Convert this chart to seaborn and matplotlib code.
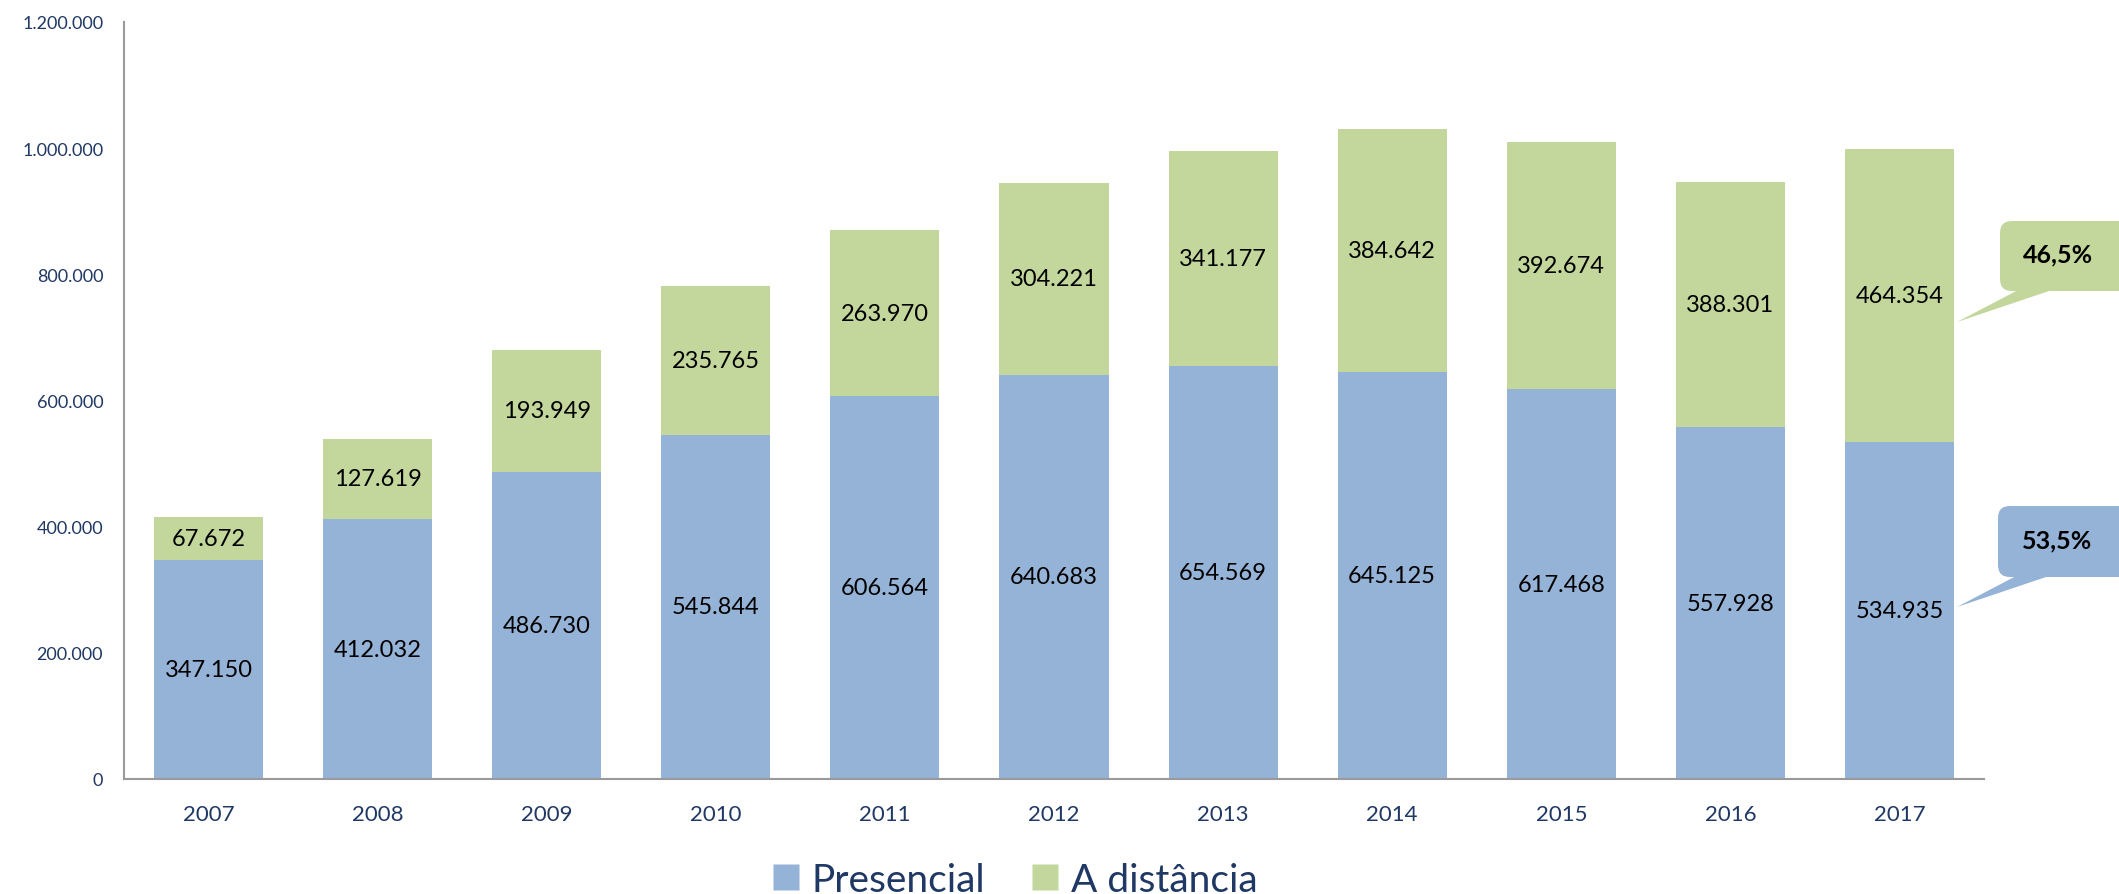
import matplotlib
matplotlib.use("Agg")
import matplotlib.pyplot as plt
import seaborn as sns
from matplotlib.patches import FancyBboxPatch, Polygon
from matplotlib.lines import Line2D
from matplotlib.transforms import IdentityTransform

# ---- data ----
years = ["2007", "2008", "2009", "2010", "2011", "2012", "2013", "2014", "2015", "2016", "2017"]
presencial = [347150, 412032, 486730, 545844, 606564, 640683, 654569, 645125, 617468, 557928, 534935]
distancia = [67672, 127619, 193949, 235765, 263970, 304221, 341177, 384642, 392674, 388301, 464354]
series_names = ["Presencial", "A distância"]
share_labels = ["53,5%", "46,5%"]
ytick_values = [0, 200000, 400000, 600000, 800000, 1000000, 1200000]

BLUE = "#95B3D7"
GREEN = "#C3D69B"
NAVY = "#1F3864"
SPINE = "#9A9A9A"


def fmt(v):
    return f"{v:,}".replace(",", ".")


sns.set_style("white")
plt.rcParams['font.family'] = ['Lato', 'DejaVu Sans']

W, H = 2119, 895
fig = plt.figure(figsize=(W / 100, H / 100), dpi=100)
ax = fig.add_axes([124 / W, 1 - 780 / H, (1984 - 124) / W, (780 - 23) / H])

sns.barplot(x=years, y=presencial, color=BLUE, saturation=1, width=0.645,
            edgecolor="none", linewidth=0, ax=ax)
sns.barplot(x=years, y=distancia, bottom=presencial, color=GREEN, saturation=1,
            width=0.645, edgecolor="none", linewidth=0, ax=ax)

ax.bar_label(ax.containers[0], labels=[fmt(v) for v in presencial],
             label_type="center", fontsize=17, color="black")
ax.bar_label(ax.containers[1], labels=[fmt(v) for v in distancia],
             label_type="center", fontsize=17, color="black")

ax.set_xlim(-0.5, len(years) - 0.5)
ax.set_ylim(0, 1200000)
ax.set_yticks(ytick_values)
ax.set_yticklabels([fmt(v) for v in ytick_values])
ax.tick_params(axis="x", length=0, pad=18, labelsize=16, labelcolor=NAVY)
ax.tick_params(axis="y", length=0, pad=15, labelsize=13, labelcolor=NAVY)
ax.set_xlabel("")
ax.set_ylabel("")
for side in ["top", "right"]:
    ax.spines[side].set_visible(False)
for side in ["left", "bottom"]:
    ax.spines[side].set_color(SPINE)
    ax.spines[side].set_linewidth(1.5)
ax.grid(False)

# ---- legend ----
handles = [
    Line2D([], [], marker="s", linestyle="none", markersize=19,
           markerfacecolor=BLUE, markeredgecolor="none"),
    Line2D([], [], marker="s", linestyle="none", markersize=19,
           markerfacecolor=GREEN, markeredgecolor="none"),
]
fig.legend(handles, series_names, loc="center", bbox_to_anchor=(1015 / W, 1 - 881 / H),
           ncol=2, frameon=False, fontsize=28, handlelength=0.7, handletextpad=0.3,
           columnspacing=1.2, labelcolor=NAVY)

# ---- callouts (pixel coordinates) ----
def callout(color, box_top, box_bottom, box_left, base_l, base_r, tip, text, text_xy):
    tr = IdentityTransform()
    box = FancyBboxPatch((box_left, H - box_bottom), 260, box_bottom - box_top,
                         boxstyle="round,pad=0,rounding_size=12",
                         facecolor=color, edgecolor="none", transform=tr)
    fig.add_artist(box)
    tri = Polygon([(base_l, H - box_bottom + 2), (base_r, H - box_bottom + 2),
                   (tip[0], H - tip[1])], closed=True,
                  facecolor=color, edgecolor="none", transform=tr)
    fig.add_artist(tri)
    fig.text(text_xy[0] / W, 1 - text_xy[1] / H, text, ha="center", va="center",
             fontsize=18, fontweight="bold", color="black")


callout(GREEN, 222, 292, 2000, 2020, 2055, (1957, 323), share_labels[1], (2058, 255))
callout(BLUE, 507, 578, 1998, 2018, 2052, (1957, 608), share_labels[0], (2057, 541))

fig.savefig("out.png", dpi=100)
